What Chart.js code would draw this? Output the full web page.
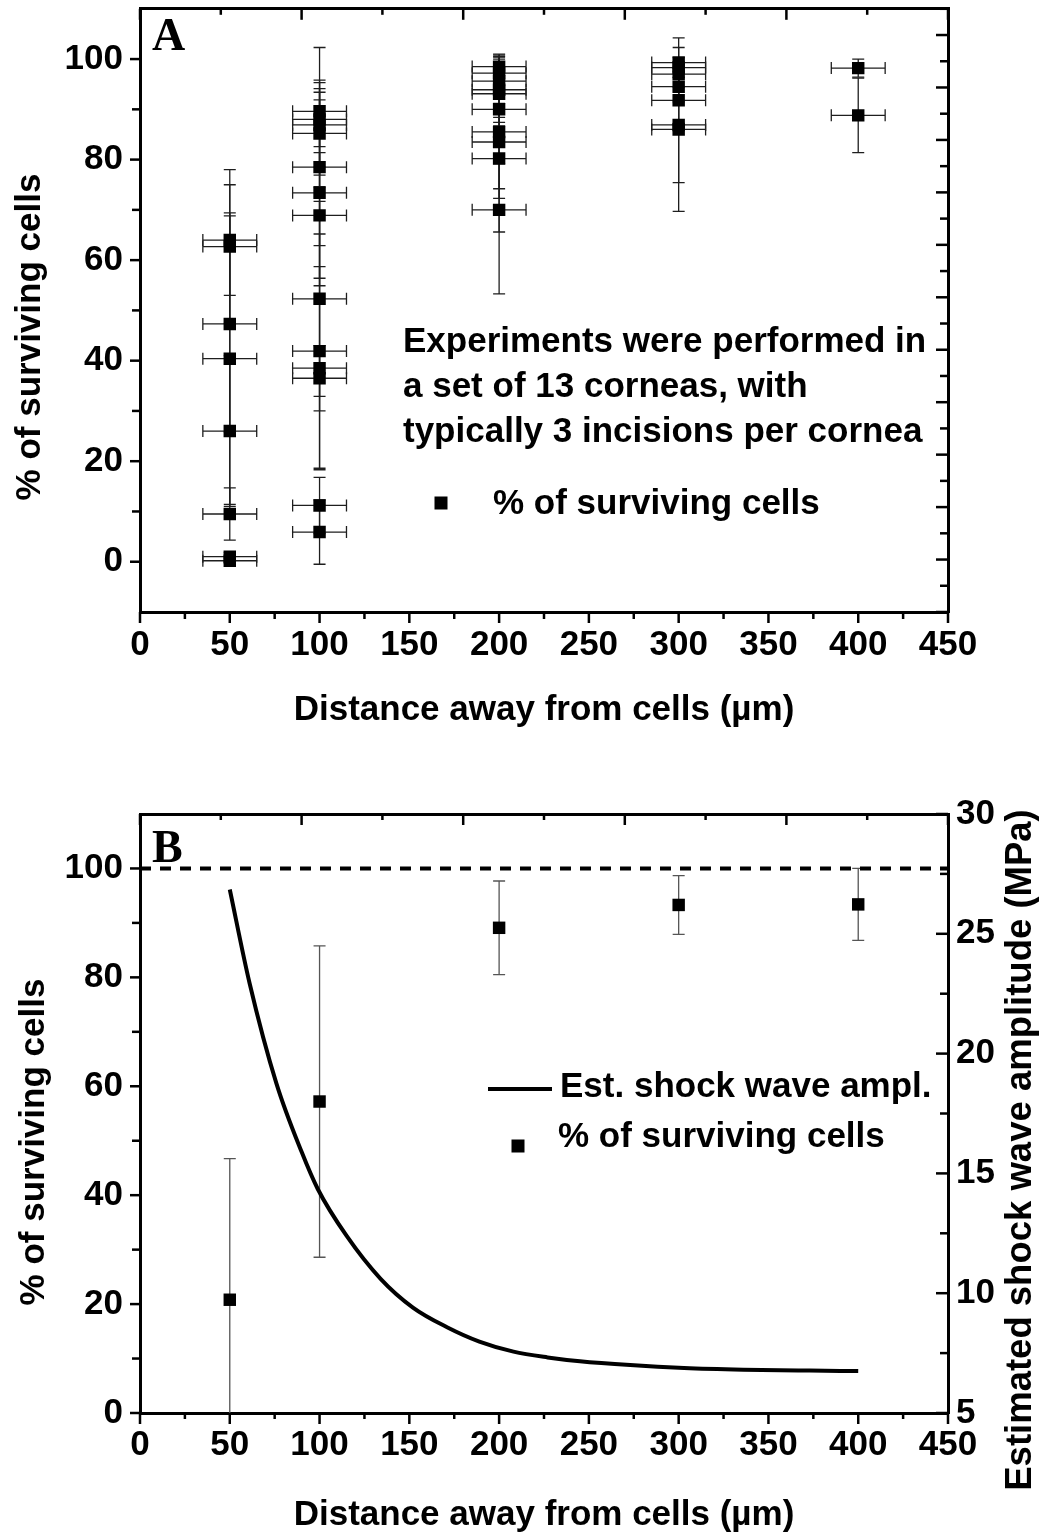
<!DOCTYPE html>
<html>
<head>
<meta charset="utf-8">
<script src="https://cdn.jsdelivr.net/npm/chart.js@4.4.1/dist/chart.umd.min.js"></script>
<style>
  body { margin: 0; background: #fff; }
  .panel { position: absolute; left: 0; width: 1042px; }
  #panelA { top: 0; height: 760px; }
  #panelB { top: 760px; height: 777px; }
</style>
</head>
<body>
<div class="panel" id="panelA"><canvas id="chartA" width="1042" height="760"></canvas></div>
<div class="panel" id="panelB"><canvas id="chartB" width="1042" height="777"></canvas></div>
<script>
// panel A - every incision (distance in um, % surviving cells, errors)
const distA = [50, 50, 50, 50, 50, 50, 50, 50,
  100, 100, 100, 100, 100, 100, 100, 100, 100, 100, 100, 100, 100,
  200, 200, 200, 200, 200, 200, 200, 200, 200, 200,
  300, 300, 300, 300, 300, 300, 300,
  400, 400];
const survA = [64.0, 62.7, 47.3, 40.4, 26.0, 9.5, 1.0, 0.2,
  89.6, 88.0, 86.9, 85.2, 78.5, 73.4, 68.9, 52.3, 41.9, 38.5, 36.5, 11.2, 5.9,
  98.5, 97.2, 95.6, 93.9, 93.1, 90.0, 85.5, 83.5, 80.2, 70.0,
  99.3, 98.3, 97.0, 94.5, 91.8, 86.9, 86.0,
  98.2, 88.8];
const survErrA = [11, 15.3, 21.5, 29, 15, 5.2, 0.8, 0.5,
  12.7, 5.4, 8.4, 10.6, 15.6, 18.5, 12.5, 19.4, 23.3, 20.2, 6.5, 5.6, 6.4,
  2.5, 3.3, 4.4, 6.5, 4.7, 10.8, 11.3, 11.2, 14.6, 16.7,
  4.9, 2.0, 2.5, 3.0, 4.6, 11.5, 16.3,
  1.8, 7.4];
const distErrA = [15, 15, 15, 15, 15, 15, 15, 15,
  15, 15, 15, 15, 15, 15, 15, 15, 15, 15, 15, 15, 15,
  15, 15, 15, 15, 15, 15, 15, 15, 15, 15,
  15, 15, 15, 15, 15, 15, 15,
  15, 15];

// panel B - averages and estimated shock wave amplitude
const distB = [50, 100, 200, 300, 400];
const survB = [20.8, 57.2, 89.1, 93.3, 93.4];
const survErrB = [25.9, 28.6, 8.6, 5.4, 6.6];
const ampDist = [50, 61, 76, 90, 99, 115, 134, 152, 171, 189, 208, 227, 245, 273, 303, 336, 373, 400];
const ampMPa = [26.85, 22.95, 18.75, 15.9, 14.35, 12.4, 10.6, 9.4, 8.58, 7.98, 7.56, 7.32, 7.16, 7.00, 6.88, 6.81, 6.77, 6.75];
const refDist = [0, 450];
const refLevel = [100, 100];

// axis ticks
const xTicks = [0, 50, 100, 150, 200, 250, 300, 350, 400, 450];
const xMinor = [25, 75, 125, 175, 225, 275, 325, 375, 425];
const topTicks = [0, 90, 180, 270, 360, 450];
const topMinor = [45, 135, 225, 315, 405];
const yTicks = [0, 20, 40, 60, 80, 100];
const yMinor = [10, 30, 50, 70, 90];
const rightTicksA = [0, 2, 4, 6, 8, 10, 12, 14, 16, 18, 20, 22];
const rightMinorA = [1, 3, 5, 7, 9, 11, 13, 15, 17, 19, 21, 23];
const ampTicks = [5, 10, 15, 20, 25, 30];
const ampMinor = [7.5, 12.5, 17.5, 22.5, 27.5];

const FONT = "'Liberation Sans', Arial, sans-serif";
const tickFont = { family: FONT, size: 35, weight: 'bold', lineHeight: 1.2 };
Chart.defaults.font.family = FONT;
Chart.defaults.color = '#000';

const fixTicks = vals => s => { s.ticks = vals.map(v => ({ value: v })); };
const frame = { display: true, color: '#000', width: 3 };
const noGrid = { display: false, drawTicks: false };

// fixed box sizes so the plot frame sits where it does in the figure
const boxH = h => s => { s.height = h; s.paddingLeft = 0; s.paddingRight = 0; s.paddingTop = 0; s.paddingBottom = 0; };
const boxW = w => s => { s.width = w; s.paddingLeft = 0; s.paddingRight = 0; s.paddingTop = 0; s.paddingBottom = 0; };

// tick marks: Origin style, some inward and some outward
function tickMarks(spec) {
  return {
    id: 'tickMarks',
    afterDraw(chart) {
      const ctx = chart.ctx, area = chart.chartArea;
      ctx.save();
      ctx.strokeStyle = '#000';
      ctx.lineWidth = 2.5;
      spec.forEach(s => {
        const scale = chart.scales[s.axis];
        const pos = scale.options.position;
        const sign = s.inward ? -1 : 1;
        s.values.forEach(v => {
          const p = scale.getPixelForValue(v);
          ctx.beginPath();
          if (pos === 'bottom') { ctx.moveTo(p, area.bottom); ctx.lineTo(p, area.bottom + sign * s.len); }
          else if (pos === 'top') { ctx.moveTo(p, area.top); ctx.lineTo(p, area.top - sign * s.len); }
          else if (pos === 'left') { ctx.moveTo(area.left, p); ctx.lineTo(area.left - sign * s.len, p); }
          else { ctx.moveTo(area.right, p); ctx.lineTo(area.right + sign * s.len, p); }
          ctx.stroke();
        });
      });
      ctx.restore();
    }
  };
}

// error bars drawn under the squares
function errorBars(xs, ys, yErr, xErr, color, yId) {
  return {
    id: 'errorBars',
    beforeDatasetsDraw(chart) {
      const ctx = chart.ctx, area = chart.chartArea;
      const sx = chart.scales.x, sy = chart.scales[yId];
      const cap = 6;
      ctx.save();
      ctx.beginPath();
      ctx.rect(area.left, area.top, area.right - area.left, area.bottom - area.top);
      ctx.clip();
      ctx.strokeStyle = color;
      ctx.lineWidth = 1.3;
      xs.forEach((xv, i) => {
        const px = sx.getPixelForValue(xv);
        const py = sy.getPixelForValue(ys[i]);
        const hi = sy.getPixelForValue(ys[i] + yErr[i]);
        const lo = sy.getPixelForValue(ys[i] - yErr[i]);
        ctx.beginPath();
        ctx.moveTo(px, hi); ctx.lineTo(px, lo);
        ctx.moveTo(px - cap, hi); ctx.lineTo(px + cap, hi);
        ctx.moveTo(px - cap, lo); ctx.lineTo(px + cap, lo);
        if (xErr) {
          const l = sx.getPixelForValue(xv - xErr[i]);
          const r = sx.getPixelForValue(xv + xErr[i]);
          ctx.moveTo(l, py); ctx.lineTo(r, py);
          ctx.moveTo(l, py - cap); ctx.lineTo(l, py + cap);
          ctx.moveTo(r, py - cap); ctx.lineTo(r, py + cap);
        }
        ctx.stroke();
      });
      ctx.restore();
    }
  };
}

// free text, panel letters and in-plot legends
function panelText(items) {
  return {
    id: 'panelText',
    afterDraw(chart) {
      const ctx = chart.ctx;
      items.forEach(it => {
        ctx.save();
        ctx.fillStyle = '#000';
        ctx.strokeStyle = '#000';
        if (it.square) {
          ctx.fillRect(it.x - 6.5, it.y - 6.5, 13, 13);
        } else if (it.line) {
          ctx.lineWidth = 4;
          ctx.beginPath(); ctx.moveTo(it.x, it.y); ctx.lineTo(it.x2, it.y); ctx.stroke();
        } else {
          ctx.font = it.font || ('bold 35px ' + FONT);
          ctx.textAlign = it.align || 'left';
          ctx.textBaseline = it.baseline || 'alphabetic';
          ctx.translate(it.x, it.y);
          if (it.rotate) ctx.rotate(it.rotate);
          ctx.fillText(it.text, 0, 0);
        }
        ctx.restore();
      });
    }
  };
}

const squareStyle = {
  pointStyle: 'rect', pointRadius: 8.8, pointHoverRadius: 8.8,
  backgroundColor: '#000', borderColor: '#000', borderWidth: 0
};

new Chart(document.getElementById('chartA'), {
  type: 'scatter',
  data: {
    datasets: [{
      label: '% of surviving cells',
      data: distA.map((d, i) => ({ x: d, y: survA[i] })),
      ...squareStyle
    }]
  },
  options: {
    responsive: false, animation: false, devicePixelRatio: 1, events: [],
    layout: { padding: 0 },
    plugins: { legend: { display: false }, tooltip: { enabled: false } },
    scales: {
      x: {
        type: 'linear', position: 'bottom', min: 0, max: 450,
        afterBuildTicks: fixTicks(xTicks),
        afterFit: boxH(148),
        grid: noGrid, border: frame,
        ticks: { font: tickFont, color: '#000', padding: 12, maxRotation: 0, autoSkip: false },
        title: { display: true, text: 'Distance away from cells (µm)', font: tickFont, color: '#000', padding: { top: 0, bottom: 29 } }
      },
      xTop: {
        type: 'linear', position: 'top', min: 0, max: 450,
        afterFit: boxH(8),
        grid: noGrid, border: frame, ticks: { display: false }
      },
      y: {
        type: 'linear', position: 'left', min: -10, max: 110,
        afterBuildTicks: fixTicks(yTicks),
        afterFit: boxW(140),
        grid: noGrid, border: frame,
        ticks: { font: tickFont, color: '#000', padding: 17, autoSkip: false }
      },
      yR: {
        type: 'linear', position: 'right', min: 0, max: 23,
        afterFit: boxW(94),
        grid: noGrid, border: frame, ticks: { display: false }
      }
    }
  },
  plugins: [
    errorBars(distA, survA, survErrA, distErrA, '#1e1e1e', 'y'),
    tickMarks([
      { axis: 'x', values: xTicks, len: 11 }, { axis: 'x', values: xMinor, len: 7 },
      { axis: 'xTop', values: topTicks, len: 11, inward: true }, { axis: 'xTop', values: topMinor, len: 6, inward: true },
      { axis: 'y', values: yTicks, len: 10 }, { axis: 'y', values: yMinor, len: 8 },
      { axis: 'yR', values: rightTicksA, len: 12, inward: true }, { axis: 'yR', values: rightMinorA, len: 8, inward: true }
    ]),
    panelText([
      { text: 'A', x: 152, y: 50, font: 'bold 46px "Liberation Serif", serif' },
      { text: '% of surviving cells', x: 40, y: 337, align: 'center', rotate: -Math.PI / 2 },
      { text: 'Experiments were performed in', x: 403, y: 352 },
      { text: 'a set of 13 corneas, with', x: 403, y: 397 },
      { text: 'typically 3 incisions per cornea', x: 403, y: 442 },
      { square: true, x: 441, y: 503 },
      { text: '% of surviving cells', x: 493, y: 514 }
    ])
  ]
});

new Chart(document.getElementById('chartB'), {
  type: 'scatter',
  data: {
    datasets: [{
      label: '% of surviving cells',
      data: distB.map((d, i) => ({ x: d, y: survB[i] })),
      yAxisID: 'y',
      ...squareStyle
    }, {
      label: 'Est. shock wave ampl.',
      data: ampDist.map((d, i) => ({ x: d, y: ampMPa[i] })),
      yAxisID: 'yR',
      showLine: true, pointRadius: 0, borderColor: '#000', borderWidth: 4,
      cubicInterpolationMode: 'monotone', borderJoinStyle: 'round', borderCapStyle: 'butt'
    }, {
      label: '100 %',
      data: refDist.map((d, i) => ({ x: d, y: refLevel[i] })),
      yAxisID: 'y',
      showLine: true, pointRadius: 0, borderColor: '#000', borderWidth: 4,
      borderDash: [11, 9]
    }]
  },
  options: {
    responsive: false, animation: false, devicePixelRatio: 1, events: [],
    layout: { padding: 0 },
    plugins: { legend: { display: false }, tooltip: { enabled: false } },
    scales: {
      x: {
        type: 'linear', position: 'bottom', min: 0, max: 450,
        afterBuildTicks: fixTicks(xTicks),
        afterFit: boxH(124),
        grid: noGrid, border: frame,
        ticks: { font: tickFont, color: '#000', padding: 11, maxRotation: 0, autoSkip: false },
        title: { display: true, text: 'Distance away from cells (µm)', font: tickFont, color: '#000', padding: { top: 0, bottom: 1 } }
      },
      xTop: {
        type: 'linear', position: 'top', min: 0, max: 450,
        afterFit: boxH(54),
        grid: noGrid, border: frame, ticks: { display: false }
      },
      y: {
        type: 'linear', position: 'left', min: 0, max: 110,
        afterBuildTicks: fixTicks(yTicks),
        afterFit: boxW(140),
        grid: noGrid, border: frame,
        ticks: { font: tickFont, color: '#000', padding: 17, autoSkip: false }
      },
      yR: {
        type: 'linear', position: 'right', min: 5, max: 30,
        afterBuildTicks: fixTicks(ampTicks),
        afterFit: boxW(94),
        grid: noGrid, border: frame,
        ticks: { font: tickFont, color: '#000', padding: 8, autoSkip: false }
      }
    }
  },
  plugins: [
    errorBars(distB, survB, survErrB, null, '#555', 'y'),
    tickMarks([
      { axis: 'x', values: xTicks, len: 11 }, { axis: 'x', values: xMinor, len: 6 },
      { axis: 'xTop', values: topTicks, len: 11, inward: true }, { axis: 'xTop', values: topMinor, len: 6, inward: true },
      { axis: 'y', values: yTicks, len: 10 }, { axis: 'y', values: yMinor, len: 8 },
      { axis: 'yR', values: ampTicks, len: 12, inward: true }, { axis: 'yR', values: ampMinor, len: 8, inward: true }
    ]),
    panelText([
      { text: 'B', x: 152, y: 102, font: 'bold 46px "Liberation Serif", serif' },
      { text: '% of surviving cells', x: 44, y: 382, align: 'center', rotate: -Math.PI / 2 },
      { text: 'Estimated shock wave amplitude (MPa)', x: 1031, y: 390, align: 'center', rotate: -Math.PI / 2, font: 'bold 36.5px ' + FONT },
      { line: true, x: 488, x2: 552, y: 329 },
      { text: 'Est. shock wave ampl.', x: 560, y: 337 },
      { square: true, x: 518, y: 386 },
      { text: '% of surviving cells', x: 558, y: 387 }
    ])
  ]
});
</script>
</body>
</html>
